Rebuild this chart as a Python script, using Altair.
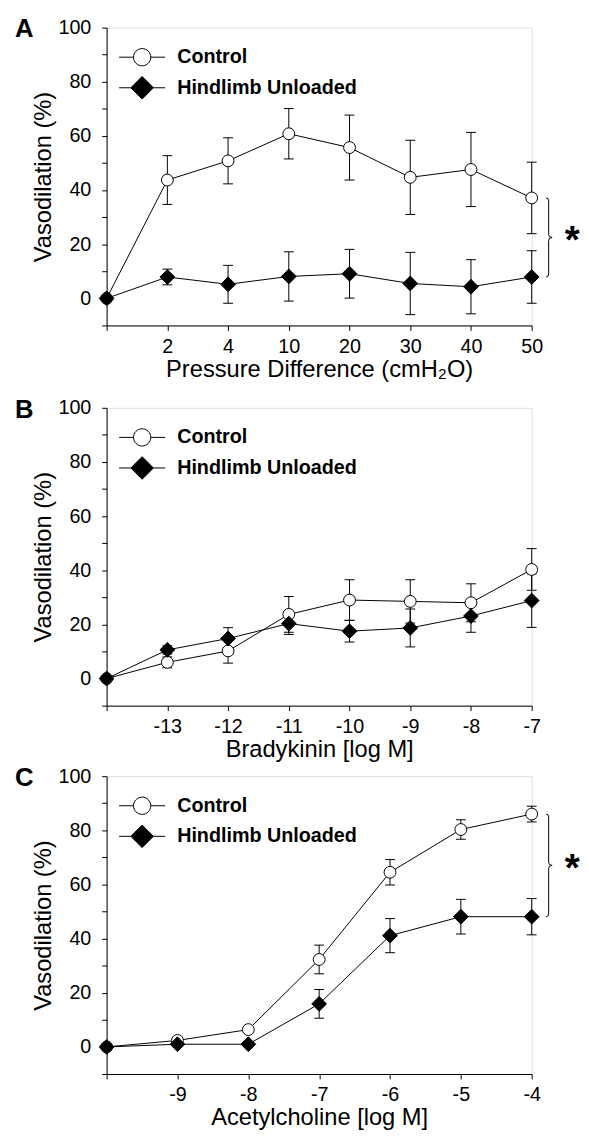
import altair as alt
import pandas as pd

FONT = "Liberation Sans"

series = ["Control", "Hindlimb Unloaded"]

# Panel A: pressure difference
a_labels = ["", "2", "4", "10", "20", "30", "40", "50"]
a_ctrl = [0, 43.7, 50.8, 60.8, 55.7, 44.7, 47.6, 37.1]
a_ctrl_err = [0, 9.0, 8.5, 9.3, 12.0, 13.7, 13.7, 13.2]
a_hu = [0, 7.9, 5.2, 8.1, 9.1, 5.5, 4.3, 7.9]
a_hu_err = [0, 2.9, 7.0, 9.1, 9.0, 11.5, 10.0, 9.7]

# Panel B: bradykinin
b_labels = ["", "-13", "-12", "-11", "-10", "-9", "-8", "-7"]
b_ctrl = [0, 6.0, 10.2, 23.7, 29.0, 28.5, 28.0, 40.3]
b_ctrl_err = [0, 2.0, 4.5, 6.6, 7.5, 8.0, 7.0, 7.7]
b_hu = [0, 10.6, 14.8, 20.3, 17.5, 18.7, 23.1, 28.8]
b_hu_err = [0, 1.5, 4.0, 4.0, 4.0, 7.0, 6.0, 9.9]

# Panel C: acetylcholine
c_labels = ["", "-9", "-8", "-7", "-6", "-5", "-4"]
c_ctrl = [0, 2.4, 6.4, 32.3, 64.5, 80.3, 86.0]
c_ctrl_err = [0, 1.0, 1.0, 5.3, 4.7, 3.6, 2.9]
c_hu = [0, 1.0, 1.0, 15.9, 41.1, 48.1, 48.1]
c_hu_err = [0, 0.5, 0.5, 5.3, 6.3, 6.4, 6.7]

PLOT_W = 431
PLOT_H = 302
Y_MIN, Y_MAX = -10, 100
PX_PER_UNIT = PLOT_H / (Y_MAX - Y_MIN)

CIRCLE_LEG = "M-2.67,0L-1,0M1,0L2.67,0M1,0A1,1,0,1,1,-1,0A1,1,0,1,1,1,0Z"
DIAMOND_LEG = "M-2.67,0L-1.31,0M1.31,0L2.67,0M0,-1.31L1.31,0L0,1.31L-1.31,0Z"
CAP = "M-1,0L1,0"


def brace_path(h):
    def p(x, y):
        return f"{x / h:.4f},{y / h:.4f}"
    return (f"M{p(0, -h)}Q{p(2.5, -h)} {p(2.5, -h + 3)}L{p(2.5, -3)}"
            f"Q{p(2.5, 0)} {p(6, 0)}Q{p(2.5, 0)} {p(2.5, 3)}L{p(2.5, h - 3)}"
            f"Q{p(2.5, h)} {p(0, h)}")


def panel(letter, labels, ctrl, ctrl_err, hu, hu_err, xtitle, star):
    n = len(labels)
    idx = list(range(n))
    df = pd.DataFrame({
        "i": idx * 2,
        "series": [series[0]] * n + [series[1]] * n,
        "v": ctrl + hu,
        "err": ctrl_err + hu_err,
    })
    df["lo"] = df["v"] - df["err"]
    df["hi"] = df["v"] + df["err"]

    label_js = "[" + ",".join(f"'{l}'" for l in labels) + "]"
    xscale = alt.Scale(domain=[0, n - 1], nice=False, zero=False)
    xaxis = alt.Axis(values=idx, labelExpr=f"{label_js}[datum.value]", title=xtitle,
                     grid=False, domainColor="black", domainWidth=1, tickColor="black",
                     tickWidth=1, tickSize=5, labelPadding=6, labelFontSize=20, labelFont=FONT,
                     labelColor="black", titleFont=FONT, titleFontSize=24,
                     titleFontWeight="normal", titleColor="black", titlePadding=1.5,
                     labelFlush=False, labelOverlap=False)
    yscale = alt.Scale(domain=[Y_MIN, Y_MAX], nice=False, zero=False)
    yaxis = alt.Axis(values=list(range(-10, 101, 10)),
                     labelExpr="datum.value >= 0 && datum.value % 20 == 0 ? datum.label : ''",
                     title="Vasodilation (%)", grid=False, domainColor="black", domainWidth=1,
                     tickColor="black", tickWidth=1, tickSize=5, labelPadding=11,
                     labelFontSize=20, labelFont=FONT, labelColor="black", titleFont=FONT,
                     titleFontSize=24, titleFontWeight="normal", titleColor="black",
                     titlePadding=3, labelFlush=False, labelOverlap=False)

    def X():
        return alt.X("i:Q", scale=xscale, axis=xaxis)

    def Y(f):
        return alt.Y(f, scale=yscale, axis=yaxis)

    base = alt.Chart(df)
    errs = base.transform_filter("datum.err > 0")
    bars = errs.mark_rule(color="black", strokeWidth=1).encode(x=X(), y=Y("lo:Q"), y2="hi:Q")
    cap_hi = errs.mark_point(shape=CAP, size=100, filled=False, stroke="black",
                             strokeWidth=1, opacity=1).encode(x=X(), y=Y("hi:Q"))
    cap_lo = errs.mark_point(shape=CAP, size=100, filled=False, stroke="black",
                             strokeWidth=1, opacity=1).encode(x=X(), y=Y("lo:Q"))
    lines = base.mark_line(color="black", strokeWidth=1).encode(
        x=X(), y=Y("v:Q"), detail="series:N", order="i:Q")
    pts_c = base.transform_filter(f"datum.series == '{series[0]}'").mark_point(
        shape="circle", size=144, filled=True, fill="white", stroke="black",
        strokeWidth=1, opacity=1).encode(x=X(), y=Y("v:Q"))
    pts_h = base.transform_filter(f"datum.series == '{series[1]}'").mark_point(
        shape="diamond", size=225, filled=True, fill="black", stroke="black",
        strokeWidth=1, opacity=1).encode(x=X(), y=Y("v:Q"))

    leg = alt.Legend(title=None, orient="none", legendX=26, legendY=20, symbolSize=306,
                     symbolStrokeWidth=1, symbolOpacity=1,
                     labelFont=FONT, labelFontSize=20, labelFontWeight="bold",
                     labelColor="black", labelOffset=25.5, labelLimit=0, rowPadding=6,
                     padding=0)
    legend_layer = base.transform_filter("false").mark_point(
        filled=True, strokeWidth=1, opacity=1).encode(
        x=X(), y=Y("v:Q"),
        shape=alt.Shape("series:N", scale=alt.Scale(domain=series,
                        range=[CIRCLE_LEG, DIAMOND_LEG]), legend=leg),
        fill=alt.Fill("series:N", scale=alt.Scale(domain=series, range=["white", "black"]),
                      legend=leg),
        stroke=alt.Stroke("series:N", scale=alt.Scale(domain=series, range=["black", "black"]),
                          legend=leg))

    layers = [bars, cap_hi, cap_lo, lines, pts_c, pts_h, legend_layer]

    if star:
        h = (ctrl[-1] - hu[-1]) / 2 * PX_PER_UNIT
        bdf = pd.DataFrame({"i": [n - 1], "v": [(ctrl[-1] + hu[-1]) / 2]})
        brace = alt.Chart(bdf).mark_point(shape=brace_path(h), size=(2 * h) ** 2,
                                          filled=False, stroke="black", strokeWidth=1,
                                          opacity=1, xOffset=14.7).encode(x=X(), y=Y("v:Q"))
        ast = alt.Chart(bdf).mark_text(text="*", font=FONT, fontSize=39, fontWeight="bold",
                                       dx=41, dy=16, align="center", baseline="alphabetic",
                                       color="black").encode(x=X(), y=Y("v:Q"))
        layers += [brace, ast]

    let = alt.Chart(pd.DataFrame({"t": [letter]})).mark_text(
        align="left", baseline="middle", fontSize=26, fontWeight="bold", font=FONT,
        color="black").encode(x=alt.value(-93), y=alt.value(2), text="t:N")
    layers.append(let)

    return alt.layer(*layers).properties(width=PLOT_W, height=PLOT_H)


pa = panel("A", a_labels, a_ctrl, a_ctrl_err, a_hu, a_hu_err,
           "Pressure Difference (cmH\u2082O)", True)
pb = panel("B", b_labels, b_ctrl, b_ctrl_err, b_hu, b_hu_err, "Bradykinin [log M]", False)
pc = panel("C", c_labels, c_ctrl, c_ctrl_err, c_hu, c_hu_err, "Acetylcholine [log M]", True)

res = dict(x="independent", y="independent", shape="independent", fill="independent",
           stroke="independent")
leg_res = dict(shape="independent", fill="independent", stroke="independent")
inner = alt.vconcat(pb, pc, spacing=2.5).resolve_scale(**res).resolve_legend(**leg_res)
chart = alt.vconcat(pa, inner, spacing=14.5).resolve_scale(**res).resolve_legend(
    **leg_res).properties(
    padding={"left": 6, "top": 0, "right": 0, "bottom": 0}
).configure_view(stroke="transparent").configure(font=FONT)

chart.save("out.html", embed_options={"renderer": "svg", "actions": False})
